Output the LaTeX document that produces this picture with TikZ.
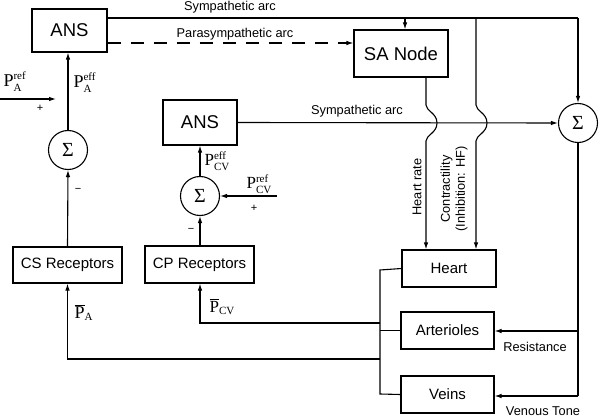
\documentclass[tikz,border=0pt]{standalone}
\usepackage{fontspec}
\setmainfont{Liberation Sans}
\newfontfamily\tms{Liberation Serif}
\usetikzlibrary{arrows.meta}
\newcommand\scr[1]{\mbox{\fontsize{11}{11}\selectfont #1}}
\newcommand\plab[2]{$\mbox{P}^{\scr{#1}}_{\scr{#2}}$}
\newcommand\pbar[1]{$\overline{\mbox{P}}_{\scr{#1}}$}
\begin{document}
\begin{tikzpicture}[x=1pt,y=-1pt,line width=1.1pt,
  box/.style={draw,inner sep=0pt,font=\fontsize{15}{17}\selectfont},
  bigbox/.style={draw,inner sep=0pt,font=\fontsize{18.5}{20}\selectfont},
  sum/.style={draw,circle,inner sep=0pt,minimum size=39pt,font=\tms\fontsize{20}{20}\selectfont},
  lab/.style={inner sep=0pt,font=\fontsize{12.8}{15}\selectfont},
  mlab/.style={inner sep=0pt,anchor=base west,font=\tms\fontsize{18}{18}\selectfont},
  sgn/.style={inner sep=0pt,font=\fontsize{11}{11}\selectfont},
  arr/.style={-{Latex[length=7pt,width=4.5pt]}}]
\useasboundingbox (0,0) rectangle (600,417);

% blocks
\node[bigbox,minimum width=75pt,minimum height=43pt] (ans1) at (69.5,30.5) {ANS};
\node[bigbox,minimum width=94pt,minimum height=47pt] (sa) at (401,53.5) {SA Node};
\node[bigbox,minimum width=74pt,minimum height=45pt] (ans2) at (200,122.5) {ANS};
\node[box,minimum width=109pt,minimum height=36pt] (cs) at (67.5,265) {CS Receptors};
\node[box,minimum width=109pt,minimum height=37pt] (cp) at (199.5,264.5) {CP Receptors};
\node[box,minimum width=94pt,minimum height=37pt] (heart) at (449,268.5) {Heart};
\node[box,minimum width=93pt,minimum height=37pt] (art) at (447.5,330.5) {Arterioles};
\node[box,minimum width=93pt,minimum height=37pt] (veins) at (447.5,394.5) {Veins};
\node[sum] (sigA) at (68,150) {Σ};
\node[sum] (sigR) at (578,123) {Σ};
\node[sum] (sigC) at (200,196) {Σ};

% helper coordinates
\coordinate (tr) at (578,18);
\coordinate (saIn) at (405,18);
\coordinate (ct) at (476,18);
\coordinate (hr) at (426,77);
\coordinate (parY) at (0,43);
\coordinate (parefS) at (0,99);
\coordinate (parefE) at (56,99);
\coordinate (pcvS) at (277,196);
\coordinate (busT) at (380,270);
\coordinate (busB) at (380,394);
\coordinate (busCP) at (380,323);
\coordinate (busCS) at (380,359);
\coordinate (rArt) at (578,331);
\coordinate (rVein) at (578,396);

% top sympathetic arc
\draw (ans1.east |- tr) -- (tr);
\draw[arr] (tr) -- (sigR.north);
\draw[arr] (saIn) -- (saIn |- sa.north);
\node[lab,anchor=base] (t1) at (230,11) {Sympathetic arc};

% parasympathetic
\draw[arr,dash pattern=on 13pt off 10pt] (ans1.east |- parY) -- (sa.west |- parY);
\node[lab,anchor=base] (t2) at (235,38) {Parasympathetic arc};

% heart rate with hop
\draw[arr] (hr) -- (426,105) .. controls (426,111) and (437,113) .. (437,123)
  .. controls (437,133) and (426,135) .. (426,141) -- (hr |- heart.north);
% contractility with hop
\draw[arr] (ct) -- (476,105) .. controls (476,111) and (487,113) .. (487,123)
  .. controls (487,133) and (476,135) .. (476,141) -- (ct |- heart.north);
\node[lab,rotate=90] (t3) at (417,187) {Heart rate};
\node[lab,rotate=90,align=center] (t4) at (454,189) {Contractility\\(Inhibition: HF)};

% second sympathetic arc
\draw[arr] (ans2.east) -- (sigR.west);
\node[lab,anchor=base] (t5) at (357,115) {Sympathetic arc};

% right side outputs
\draw (sigR.south) -- (rVein);
\draw[arr] (rVein) -- (veins.east |- rVein);
\draw[arr] (rArt) -- (art.east |- rArt);
\node[lab,anchor=base] (t6) at (535,351) {Resistance};
\node[lab,anchor=base] (t7) at (543,415) {Venous Tone};

% arterial loop
\draw[arr] (sigA.north) -- (sigA.north |- ans1.south);
\draw[arr] (cs.north) -- (sigA.south);
\draw[arr] (parefS) -- (parefE);
\node[mlab] (l1) at (3,87) {\plab{ref}{A}};
\node[mlab] (l2) at (73,88) {\plab{eff}{A}};
\node[sgn] (s1) at (40,108) {+};
\node[sgn] (s2) at (78,190) {−};

% cardiopulmonary loop
\draw[arr] (sigC.north) -- (sigC.north |- ans2.south);
\draw[arr] (cp.north -| sigC) -- (sigC.south);
\draw[arr] (pcvS) -- (sigC.east);
\node[mlab,font=\tms\fontsize{17}{17}\selectfont] (l3) at (204,166) {\plab{eff}{CV}};
\node[mlab,font=\tms\fontsize{17}{17}\selectfont] (l4) at (246,189) {\plab{ref}{CV}};
\node[sgn] (s3) at (254,208) {+};
\node[sgn] (s4) at (191,230) {−};

% bus from organs
\draw (heart.west) -- (busT) -- (busB) -- (veins.west);
\draw (art.west) -- (art.west -| busT);
\draw[arr] (busCP) -- (busCP -| sigC) -- (cp.south -| sigC);
\draw[arr] (busCS) -- (busCS -| cs) -- (cs.south);
\node[mlab] (l5) at (74,318) {\pbar{A}};
\node[mlab,font=\tms\fontsize{17}{17}\selectfont] (l6) at (209,312) {\pbar{CV}};
\end{tikzpicture}
\end{document}
